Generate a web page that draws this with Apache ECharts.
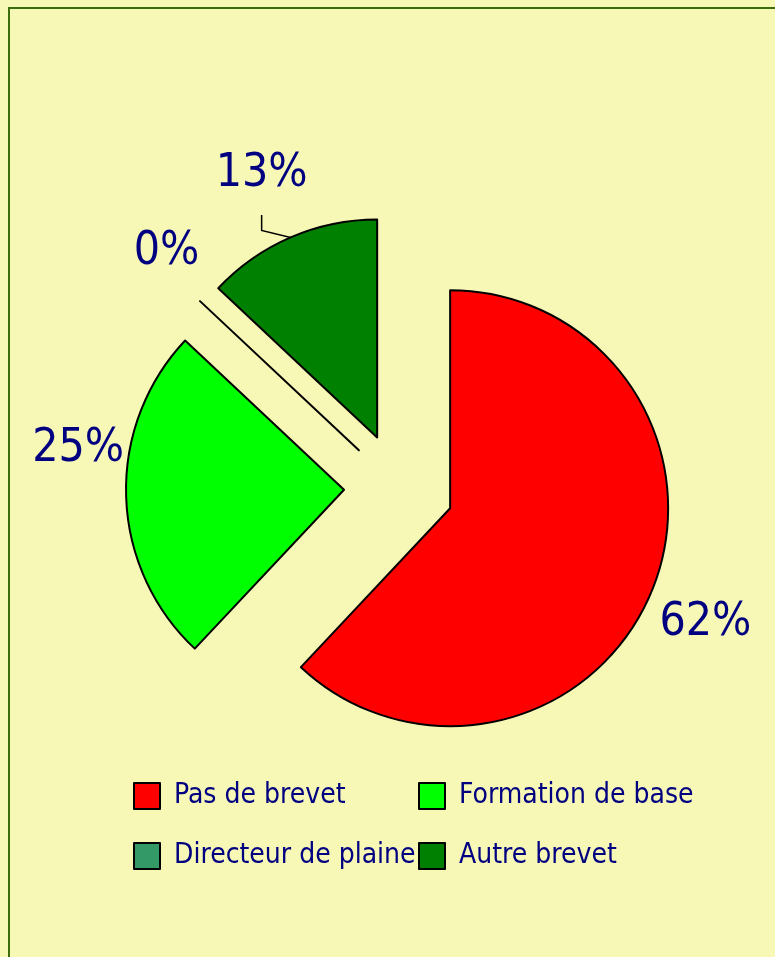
<!DOCTYPE html>
<html>
<head>
<meta charset="utf-8">
<script src="https://cdn.jsdelivr.net/npm/echarts@6/dist/echarts.min.js"></script>
<style>
  html, body { margin: 0; padding: 0; background: #f7f7b6; }
  #chart { width: 775px; height: 957px; }
</style>
</head>
<body>
<div id="chart"></div>
<script>
// categories + values (percent)
const categories = ['Pas de brevet', 'Formation de base', 'Directeur de plaine', 'Autre brevet']
const values = [62, 25, 0, 13]
const colors = ['#ff0000', '#00ff00', '#339966', '#008000']
// nudges for the percent labels, [dx, dy]
const labelNudge = [[-17, 27], [23, -48], [19, -35], [30, -45]]

const FONT = '"DejaVu Sans Condensed", "Liberation Sans Narrow", sans-serif'
const NAVY = '#000080'

const chart = echarts.init(document.getElementById('chart'))

const legendBase = {
  orient: 'vertical',
  top: 782,
  padding: 0,
  icon: 'rect',
  itemWidth: 26,
  itemHeight: 26,
  itemGap: 32,
  selectedMode: false,
  itemStyle: { borderColor: '#000', borderWidth: 2 },
  textStyle: { fontFamily: FONT, fontSize: 28, color: NAVY, lineHeight: 26, padding: [0, 0, 0, 9] }
}

const option = {
  backgroundColor: '#f7f7b6',
  animation: false,
  graphic: [
    {
      type: 'rect',
      shape: { x: 9, y: 8, width: 800, height: 1000 },
      style: { fill: 'none', stroke: '#3d6e0e', lineWidth: 2 },
      silent: true
    }
  ],
  legend: [
    { ...legendBase, left: 133, data: [categories[0], categories[2]] },
    { ...legendBase, left: 418, data: [categories[1], categories[3]] }
  ],
  series: [
    {
      type: 'pie',
      center: [399, 488],
      radius: 218,
      startAngle: 90,
      clockwise: true,
      selectedMode: 'multiple',
      selectedOffset: 55,
      avoidLabelOverlap: false,
      itemStyle: { borderColor: '#000', borderWidth: 2 },
      label: {
        show: true,
        position: 'outside',
        formatter: (p) => Math.round(p.percent) + '%',
        fontFamily: FONT,
        fontSize: 46,
        color: NAVY
      },
      labelLine: { show: false, length: 20, length2: 0, lineStyle: { color: '#000', width: 1.5 } },
      labelLayout: (p) => {
        const [dx, dy] = labelNudge[p.dataIndex]
        const out = { dx, dy }
        if (p.labelLinePoints && p.dataIndex === 3) {
          const a = p.labelLinePoints[0]
          const cx = p.labelRect.x + p.labelRect.width / 2 + dx
          const bottom = p.labelRect.y + p.labelRect.height + dy
          out.labelLinePoints = [a, [cx, a[1] - 7], [cx, bottom + 18]]
        }
        return out
      },
      emphasis: { disabled: true },
      data: categories.map((name, i) => ({
        name,
        value: values[i],
        selected: true,
        itemStyle: { color: colors[i] },
        labelLine: { show: i === 3 }
      }))
    }
  ]
}

chart.setOption(option)
</script>
</body>
</html>
